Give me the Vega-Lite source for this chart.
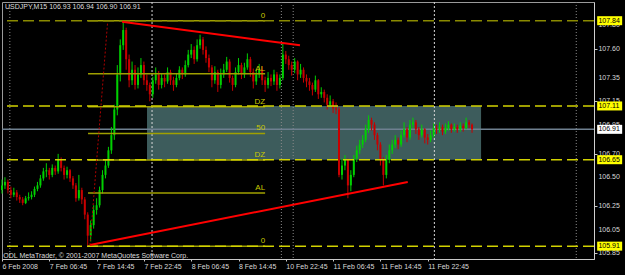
{
  "$schema": "https://vega.github.io/schema/vega-lite/v6.json",
  "width": 592,
  "height": 257,
  "autosize": {"type": "none"},
  "padding": {"left": 2, "top": 2, "right": 31, "bottom": 16},
  "background": "#000000",
  "config": {
    "view": {"stroke": "#9a9a9a", "strokeWidth": 1},
    "font": "Liberation Sans"
  },
  "datasets": {
    "candles": [
      {"t":0,"o":106.39,"h":106.48,"l":106.36,"c":106.43},
      {"t":2,"o":106.43,"h":106.50,"l":106.40,"c":106.46},
      {"t":4,"o":106.46,"h":106.48,"l":106.36,"c":106.39},
      {"t":6,"o":106.39,"h":106.42,"l":106.32,"c":106.35},
      {"t":8,"o":106.35,"h":106.41,"l":106.33,"c":106.37},
      {"t":10,"o":106.37,"h":106.39,"l":106.30,"c":106.33},
      {"t":12,"o":106.33,"h":106.35,"l":106.28,"c":106.31},
      {"t":14,"o":106.31,"h":106.33,"l":106.26,"c":106.28},
      {"t":16,"o":106.28,"h":106.34,"l":106.27,"c":106.32},
      {"t":18,"o":106.32,"h":106.37,"l":106.30,"c":106.33},
      {"t":20,"o":106.33,"h":106.38,"l":106.31,"c":106.35},
      {"t":22,"o":106.35,"h":106.42,"l":106.33,"c":106.40},
      {"t":24,"o":106.40,"h":106.46,"l":106.38,"c":106.43},
      {"t":26,"o":106.43,"h":106.52,"l":106.41,"c":106.49},
      {"t":28,"o":106.49,"h":106.58,"l":106.47,"c":106.55},
      {"t":30,"o":106.55,"h":106.62,"l":106.50,"c":106.56},
      {"t":32,"o":106.56,"h":106.58,"l":106.48,"c":106.52},
      {"t":34,"o":106.52,"h":106.61,"l":106.50,"c":106.58},
      {"t":36,"o":106.58,"h":106.60,"l":106.52,"c":106.55},
      {"t":38,"o":106.55,"h":106.70,"l":106.53,"c":106.65},
      {"t":40,"o":106.65,"h":106.67,"l":106.55,"c":106.58},
      {"t":42,"o":106.58,"h":106.60,"l":106.48,"c":106.52},
      {"t":44,"o":106.52,"h":106.59,"l":106.49,"c":106.56},
      {"t":46,"o":106.56,"h":106.57,"l":106.46,"c":106.49},
      {"t":48,"o":106.49,"h":106.51,"l":106.40,"c":106.43},
      {"t":50,"o":106.43,"h":106.45,"l":106.29,"c":106.32},
      {"t":52,"o":106.32,"h":106.52,"l":106.30,"c":106.39},
      {"t":54,"o":106.39,"h":106.41,"l":106.27,"c":106.31},
      {"t":56,"o":106.31,"h":106.33,"l":106.14,"c":106.18},
      {"t":58,"o":106.18,"h":106.20,"l":105.91,"c":106.00},
      {"t":60,"o":106.00,"h":106.13,"l":105.95,"c":106.09},
      {"t":62,"o":106.09,"h":106.26,"l":106.06,"c":106.22},
      {"t":64,"o":106.22,"h":106.32,"l":106.18,"c":106.26},
      {"t":66,"o":106.26,"h":106.42,"l":106.24,"c":106.39},
      {"t":68,"o":106.39,"h":106.56,"l":106.36,"c":106.52},
      {"t":70,"o":106.52,"h":106.65,"l":106.49,"c":106.60},
      {"t":72,"o":106.60,"h":106.76,"l":106.58,"c":106.73},
      {"t":74,"o":106.73,"h":106.93,"l":106.70,"c":106.86},
      {"t":76,"o":106.86,"h":107.12,"l":106.82,"c":107.08},
      {"t":78,"o":107.08,"h":107.46,"l":107.03,"c":107.38},
      {"t":80,"o":107.38,"h":107.68,"l":107.32,"c":107.63},
      {"t":82,"o":107.63,"h":107.84,"l":107.59,"c":107.76},
      {"t":84,"o":107.76,"h":107.78,"l":107.42,"c":107.51},
      {"t":86,"o":107.51,"h":107.55,"l":107.27,"c":107.33},
      {"t":88,"o":107.33,"h":107.49,"l":107.29,"c":107.42},
      {"t":90,"o":107.42,"h":107.46,"l":107.25,"c":107.29},
      {"t":92,"o":107.29,"h":107.44,"l":107.26,"c":107.38},
      {"t":94,"o":107.38,"h":107.52,"l":107.35,"c":107.46},
      {"t":96,"o":107.46,"h":107.49,"l":107.29,"c":107.33},
      {"t":98,"o":107.33,"h":107.38,"l":107.24,"c":107.29},
      {"t":100,"o":107.29,"h":107.31,"l":107.15,"c":107.21},
      {"t":102,"o":107.21,"h":107.36,"l":107.18,"c":107.33},
      {"t":104,"o":107.33,"h":107.44,"l":107.30,"c":107.38},
      {"t":106,"o":107.38,"h":107.41,"l":107.25,"c":107.29},
      {"t":108,"o":107.29,"h":107.39,"l":107.26,"c":107.35},
      {"t":110,"o":107.35,"h":107.38,"l":107.27,"c":107.32},
      {"t":112,"o":107.32,"h":107.44,"l":107.30,"c":107.40},
      {"t":114,"o":107.40,"h":107.42,"l":107.29,"c":107.33},
      {"t":116,"o":107.33,"h":107.36,"l":107.24,"c":107.29},
      {"t":118,"o":107.29,"h":107.39,"l":107.27,"c":107.35},
      {"t":120,"o":107.35,"h":107.45,"l":107.33,"c":107.42},
      {"t":122,"o":107.42,"h":107.44,"l":107.34,"c":107.38},
      {"t":124,"o":107.38,"h":107.50,"l":107.36,"c":107.46},
      {"t":126,"o":107.46,"h":107.59,"l":107.44,"c":107.55},
      {"t":128,"o":107.55,"h":107.64,"l":107.52,"c":107.59},
      {"t":130,"o":107.59,"h":107.62,"l":107.47,"c":107.51},
      {"t":132,"o":107.51,"h":107.68,"l":107.49,"c":107.63},
      {"t":134,"o":107.63,"h":107.72,"l":107.60,"c":107.68},
      {"t":136,"o":107.68,"h":107.70,"l":107.55,"c":107.59},
      {"t":138,"o":107.59,"h":107.62,"l":107.48,"c":107.52},
      {"t":140,"o":107.52,"h":107.55,"l":107.40,"c":107.44},
      {"t":142,"o":107.44,"h":107.46,"l":107.27,"c":107.33},
      {"t":144,"o":107.33,"h":107.45,"l":107.30,"c":107.40},
      {"t":146,"o":107.40,"h":107.42,"l":107.23,"c":107.29},
      {"t":148,"o":107.29,"h":107.43,"l":107.26,"c":107.38},
      {"t":150,"o":107.38,"h":107.47,"l":107.35,"c":107.42},
      {"t":152,"o":107.42,"h":107.53,"l":107.40,"c":107.49},
      {"t":154,"o":107.49,"h":107.51,"l":107.31,"c":107.35},
      {"t":156,"o":107.35,"h":107.37,"l":107.24,"c":107.29},
      {"t":158,"o":107.29,"h":107.44,"l":107.27,"c":107.40},
      {"t":160,"o":107.40,"h":107.52,"l":107.38,"c":107.46},
      {"t":162,"o":107.46,"h":107.48,"l":107.34,"c":107.38},
      {"t":164,"o":107.38,"h":107.48,"l":107.35,"c":107.44},
      {"t":166,"o":107.44,"h":107.56,"l":107.42,"c":107.51},
      {"t":168,"o":107.51,"h":107.53,"l":107.36,"c":107.40},
      {"t":170,"o":107.40,"h":107.43,"l":107.26,"c":107.32},
      {"t":172,"o":107.32,"h":107.42,"l":107.29,"c":107.38},
      {"t":174,"o":107.38,"h":107.47,"l":107.35,"c":107.42},
      {"t":176,"o":107.42,"h":107.45,"l":107.29,"c":107.33},
      {"t":178,"o":107.33,"h":107.36,"l":107.23,"c":107.29},
      {"t":180,"o":107.29,"h":107.40,"l":107.26,"c":107.35},
      {"t":182,"o":107.35,"h":107.38,"l":107.28,"c":107.32},
      {"t":184,"o":107.32,"h":107.42,"l":107.29,"c":107.38},
      {"t":186,"o":107.38,"h":107.40,"l":107.24,"c":107.29},
      {"t":188,"o":107.29,"h":107.38,"l":107.26,"c":107.35},
      {"t":190,"o":107.35,"h":107.65,"l":107.33,"c":107.55},
      {"t":192,"o":107.55,"h":107.58,"l":107.47,"c":107.51},
      {"t":194,"o":107.51,"h":107.54,"l":107.42,"c":107.46},
      {"t":196,"o":107.46,"h":107.49,"l":107.37,"c":107.42},
      {"t":198,"o":107.42,"h":107.52,"l":107.39,"c":107.49},
      {"t":200,"o":107.49,"h":107.50,"l":107.33,"c":107.38},
      {"t":202,"o":107.38,"h":107.47,"l":107.35,"c":107.42},
      {"t":204,"o":107.42,"h":107.44,"l":107.31,"c":107.35},
      {"t":206,"o":107.35,"h":107.38,"l":107.27,"c":107.32},
      {"t":208,"o":107.32,"h":107.35,"l":107.24,"c":107.29},
      {"t":210,"o":107.29,"h":107.31,"l":107.20,"c":107.25},
      {"t":212,"o":107.25,"h":107.37,"l":107.23,"c":107.33},
      {"t":214,"o":107.33,"h":107.34,"l":107.17,"c":107.21},
      {"t":216,"o":107.21,"h":107.27,"l":107.18,"c":107.23},
      {"t":218,"o":107.23,"h":107.25,"l":107.14,"c":107.18},
      {"t":220,"o":107.18,"h":107.21,"l":107.08,"c":107.12},
      {"t":222,"o":107.12,"h":107.20,"l":107.10,"c":107.15},
      {"t":224,"o":107.15,"h":107.17,"l":107.05,"c":107.09},
      {"t":226,"o":107.09,"h":107.14,"l":107.04,"c":107.08},
      {"t":228,"o":107.08,"h":107.10,"l":106.50,"c":106.52},
      {"t":230,"o":106.52,"h":106.66,"l":106.48,"c":106.60},
      {"t":232,"o":106.60,"h":106.69,"l":106.56,"c":106.65},
      {"t":234,"o":106.65,"h":106.66,"l":106.32,"c":106.43},
      {"t":236,"o":106.43,"h":106.56,"l":106.38,"c":106.52},
      {"t":238,"o":106.52,"h":106.69,"l":106.50,"c":106.66},
      {"t":240,"o":106.66,"h":106.77,"l":106.63,"c":106.73},
      {"t":242,"o":106.73,"h":106.82,"l":106.70,"c":106.78},
      {"t":244,"o":106.78,"h":106.86,"l":106.75,"c":106.82},
      {"t":246,"o":106.82,"h":106.95,"l":106.80,"c":106.91},
      {"t":248,"o":106.91,"h":107.03,"l":106.88,"c":106.99},
      {"t":250,"o":106.99,"h":107.01,"l":106.90,"c":106.95},
      {"t":252,"o":106.95,"h":106.97,"l":106.82,"c":106.86},
      {"t":254,"o":106.86,"h":106.88,"l":106.73,"c":106.78},
      {"t":256,"o":106.78,"h":106.80,"l":106.60,"c":106.65},
      {"t":258,"o":106.65,"h":106.67,"l":106.43,"c":106.52},
      {"t":260,"o":106.52,"h":106.69,"l":106.49,"c":106.65},
      {"t":262,"o":106.65,"h":106.78,"l":106.62,"c":106.73},
      {"t":264,"o":106.73,"h":106.82,"l":106.70,"c":106.78},
      {"t":266,"o":106.78,"h":106.86,"l":106.75,"c":106.82},
      {"t":268,"o":106.82,"h":106.84,"l":106.74,"c":106.78},
      {"t":270,"o":106.78,"h":106.90,"l":106.76,"c":106.86},
      {"t":272,"o":106.86,"h":106.97,"l":106.84,"c":106.91},
      {"t":274,"o":106.91,"h":106.93,"l":106.80,"c":106.84},
      {"t":276,"o":106.84,"h":106.99,"l":106.82,"c":106.95},
      {"t":278,"o":106.95,"h":107.01,"l":106.92,"c":106.97},
      {"t":280,"o":106.97,"h":106.99,"l":106.87,"c":106.91},
      {"t":282,"o":106.91,"h":106.93,"l":106.82,"c":106.86},
      {"t":284,"o":106.86,"h":106.95,"l":106.84,"c":106.91},
      {"t":286,"o":106.91,"h":106.92,"l":106.79,"c":106.84},
      {"t":288,"o":106.84,"h":106.87,"l":106.78,"c":106.82},
      {"t":290,"o":106.82,"h":106.90,"l":106.80,"c":106.86},
      {"t":292,"o":106.86,"h":106.96,"l":106.84,"c":106.92},
      {"t":294,"o":106.92,"h":106.95,"l":106.87,"c":106.91},
      {"t":296,"o":106.91,"h":106.97,"l":106.88,"c":106.93},
      {"t":298,"o":106.93,"h":106.95,"l":106.86,"c":106.89},
      {"t":300,"o":106.89,"h":106.96,"l":106.87,"c":106.92},
      {"t":302,"o":106.92,"h":106.98,"l":106.90,"c":106.95},
      {"t":304,"o":106.95,"h":106.96,"l":106.88,"c":106.91},
      {"t":306,"o":106.91,"h":106.96,"l":106.89,"c":106.93},
      {"t":308,"o":106.93,"h":106.95,"l":106.88,"c":106.91},
      {"t":310,"o":106.91,"h":106.97,"l":106.89,"c":106.94},
      {"t":312,"o":106.94,"h":106.96,"l":106.89,"c":106.92},
      {"t":314,"o":106.92,"h":107.01,"l":106.91,"c":106.97},
      {"t":316,"o":106.97,"h":106.99,"l":106.92,"c":106.95},
      {"t":318,"o":106.95,"h":106.96,"l":106.88,"c":106.91}
    ],
    "fib": [
      {"p": 107.84, "lab": "0"}, {"p": 107.385, "lab": "AL"}, {"p": 107.103, "lab": "DZ"},
      {"p": 106.875, "lab": "50"}, {"p": 106.647, "lab": "DZ"}, {"p": 106.365, "lab": "AL"}, {"p": 105.91, "lab": "0"}
    ],
    "yticks": [
      {"v": 107.8, "s": "107.80"}, {"v": 107.6, "s": "107.60"}, {"v": 107.35, "s": "107.35"}, {"v": 107.15, "s": "107.15"},
      {"v": 106.95, "s": "106.95"}, {"v": 106.7, "s": "106.70"}, {"v": 106.5, "s": "106.50"}, {"v": 106.25, "s": "106.25"},
      {"v": 106.05, "s": "106.05"}, {"v": 105.85, "s": "105.85"}
    ]
  },
  "layer": [
    {
      "data": {"values": [{"t1": 98.1, "t2": 324.1, "top": 107.11, "bot": 106.65}]},
      "mark": {"type": "rect", "color": "#3d5c5c"},
      "encoding": {
        "x": {"field": "t1", "type": "quantitative", "title": null, "scale": {"domain": [0, 400.5], "nice": false, "zero": false},
          "axis": {"values": [0, 32, 64, 96, 128, 160, 192, 224, 256, 288],
            "labelExpr": "['6 Feb 2008','7 Feb 06:45','7 Feb 14:45','7 Feb 22:45','8 Feb 06:45','8 Feb 14:45','10 Feb 22:45','11 Feb 06:45','11 Feb 14:45','11 Feb 22:45'][round(datum.value/32)]",
            "labelAlign": "left", "labelDx": -1, "labelFlush": false, "labelOverlap": false, "labelBaseline": "top",
            "labelColor": "#d8d8d8", "labelFontSize": 7, "labelPadding": 1, "tickSize": 2, "tickColor": "#c8c8c8",
            "domainColor": "#c8c8c8", "grid": false, "title": null, "orient": "bottom"}},
        "x2": {"field": "t2"},
        "y": {"field": "top", "type": "quantitative", "title": null, "scale": {"domain": [105.8, 108.0], "nice": false, "zero": false},
          "axis": {"values": [105.85, 106.05, 106.25, 106.5, 106.7, 106.95, 107.15, 107.35, 107.6, 107.8],
            "orient": "right", "labels": false, "tickSize": 3,
            "tickColor": "#c8c8c8", "domainColor": "#d0d0d0", "grid": false, "title": null}},
        "y2": {"field": "bot"}
      }
    },
    {
      "data": {"values": [{"t": 5.3}, {"t": 189}, {"t": 197}, {"t": 388.5}]},
      "mark": {"type": "rule", "color": "#8a8a8a", "strokeDash": [1, 2], "strokeWidth": 1},
      "encoding": {"x": {"field": "t", "type": "quantitative", "title": null, "scale": {"domain": [0, 400.5], "nice": false, "zero": false}}}
    },
    {
      "data": {"values": [{"t": 101.5}, {"t": 292.5}]},
      "mark": {"type": "rule", "color": "#d8d8d8", "strokeDash": [2, 2], "strokeWidth": 1},
      "encoding": {"x": {"field": "t", "type": "quantitative", "title": null, "scale": {"domain": [0, 400.5], "nice": false, "zero": false}}}
    },
    {
      "data": {"values": [{"p": 106.91}]},
      "mark": {"type": "rule", "color": "#6f8090", "strokeWidth": 1.5},
      "encoding": {"y": {"field": "p", "type": "quantitative", "title": null, "scale": {"domain": [105.8, 108.0], "nice": false, "zero": false}}}
    },
    {
      "data": {"name": "candles"},
      "mark": {"type": "rule", "strokeWidth": 1},
      "encoding": {
        "x": {"field": "t", "type": "quantitative", "title": null, "scale": {"domain": [0, 400.5], "nice": false, "zero": false}},
        "y": {"field": "l", "type": "quantitative", "title": null, "scale": {"domain": [105.8, 108.0], "nice": false, "zero": false}},
        "y2": {"field": "h"},
        "color": {"condition": {"test": "datum.c >= datum.o", "value": "#00d000"}, "value": "#c80000"}
      }
    },
    {
      "data": {"name": "candles"},
      "mark": {"type": "rule", "strokeWidth": 2},
      "encoding": {
        "x": {"field": "t", "type": "quantitative", "title": null, "scale": {"domain": [0, 400.5], "nice": false, "zero": false}},
        "y": {"field": "o", "type": "quantitative", "title": null, "scale": {"domain": [105.8, 108.0], "nice": false, "zero": false}},
        "y2": {"field": "c"},
        "color": {"condition": {"test": "datum.c >= datum.o", "value": "#00d000"}, "value": "#c80000"}
      }
    },
    {
      "data": {"name": "fib"},
      "mark": {"type": "rule", "color": "#a0a000", "strokeWidth": 1.5},
      "encoding": {
        "x": {"datum": 58.2, "type": "quantitative", "title": null, "scale": {"domain": [0, 400.5], "nice": false, "zero": false}},
        "x2": {"datum": 178},
        "y": {"field": "p", "type": "quantitative", "title": null, "scale": {"domain": [105.8, 108.0], "nice": false, "zero": false}}
      }
    },
    {
      "data": {"values": [{"p": 107.84}]},
      "mark": {"type": "rule", "color": "#8a8a00", "strokeWidth": 1.5, "strokeDash": [11, 5]},
      "encoding": {"y": {"field": "p", "type": "quantitative", "title": null, "scale": {"domain": [105.8, 108.0], "nice": false, "zero": false}}}
    },
    {
      "data": {"values": [{"p": 107.11}, {"p": 106.65}, {"p": 105.91}]},
      "mark": {"type": "rule", "color": "#d2d200", "strokeWidth": 1.5, "strokeDash": [11, 5]},
      "encoding": {"y": {"field": "p", "type": "quantitative", "title": null, "scale": {"domain": [105.8, 108.0], "nice": false, "zero": false}}}
    },
    {
      "data": {"name": "fib"},
      "mark": {"type": "text", "color": "#c8c800", "fontSize": 8, "align": "right", "baseline": "bottom", "dy": -1},
      "encoding": {
        "x": {"datum": 178, "type": "quantitative", "title": null, "scale": {"domain": [0, 400.5], "nice": false, "zero": false}},
        "y": {"field": "p", "type": "quantitative", "title": null, "scale": {"domain": [105.8, 108.0], "nice": false, "zero": false}},
        "text": {"field": "lab"}
      }
    },
    {
      "data": {"values": [
        {"t1": 81.2, "p1": 107.83, "t2": 201.6, "p2": 107.63},
        {"t1": 59.5, "p1": 105.92, "t2": 274.5, "p2": 106.46}]},
      "mark": {"type": "rule", "color": "#ff0000", "strokeWidth": 2},
      "encoding": {
        "x": {"field": "t1", "type": "quantitative", "title": null, "scale": {"domain": [0, 400.5], "nice": false, "zero": false}},
        "x2": {"field": "t2"},
        "y": {"field": "p1", "type": "quantitative", "title": null, "scale": {"domain": [105.8, 108.0], "nice": false, "zero": false}},
        "y2": {"field": "p2"}
      }
    },
    {
      "data": {"values": [{"t1": 59.5, "p1": 105.92, "t2": 71.4, "p2": 107.82}]},
      "mark": {"type": "rule", "color": "#b00000", "strokeWidth": 1, "strokeDash": [2, 2]},
      "encoding": {
        "x": {"field": "t1", "type": "quantitative", "title": null, "scale": {"domain": [0, 400.5], "nice": false, "zero": false}},
        "x2": {"field": "t2"},
        "y": {"field": "p1", "type": "quantitative", "title": null, "scale": {"domain": [105.8, 108.0], "nice": false, "zero": false}},
        "y2": {"field": "p2"}
      }
    },
    {
      "data": {"values": [
        {"t": 2, "p": 107.957, "txt": "USDJPY,M15  106.93 106.94 106.90 106.91"},
        {"t": 0.9, "p": 105.829, "txt": "ODL MetaTrader, © 2001-2007 MetaQuotes Software Corp."}]},
      "mark": {"type": "text", "color": "#dcdcdc", "fontSize": 7, "align": "left", "baseline": "middle"},
      "encoding": {
        "x": {"field": "t", "type": "quantitative", "title": null, "scale": {"domain": [0, 400.5], "nice": false, "zero": false}},
        "y": {"field": "p", "type": "quantitative", "title": null, "scale": {"domain": [105.8, 108.0], "nice": false, "zero": false}},
        "text": {"field": "txt"}
      }
    },
    {
      "data": {"name": "yticks"},
      "mark": {"type": "text", "color": "#d8d8d8", "fontSize": 7, "align": "left", "baseline": "middle"},
      "encoding": {
        "x": {"datum": 403.5, "type": "quantitative", "title": null, "scale": {"domain": [0, 400.5], "nice": false, "zero": false}},
        "y": {"field": "v", "type": "quantitative", "title": null, "scale": {"domain": [105.8, 108.0], "nice": false, "zero": false}},
        "text": {"field": "s"}
      }
    },
    {
      "data": {"values": [{"p": 107.84, "s": "107.84"}, {"p": 107.11, "s": "107.11"}, {"p": 106.65, "s": "106.65"}, {"p": 105.91, "s": "105.91"}]},
      "layer": [
        {
          "mark": {"type": "tick", "orient": "horizontal", "color": "#ffff00", "size": 25, "thickness": 9, "opacity": 1},
          "encoding": {
            "x": {"datum": 411.1, "type": "quantitative", "title": null, "scale": {"domain": [0, 400.5], "nice": false, "zero": false}},
            "y": {"field": "p", "type": "quantitative", "title": null, "scale": {"domain": [105.8, 108.0], "nice": false, "zero": false}}
          }
        },
        {
          "mark": {"type": "text", "color": "#000000", "fontSize": 7, "align": "left", "baseline": "middle"},
          "encoding": {
            "x": {"datum": 403.5, "type": "quantitative", "title": null, "scale": {"domain": [0, 400.5], "nice": false, "zero": false}},
            "y": {"field": "p", "type": "quantitative", "title": null, "scale": {"domain": [105.8, 108.0], "nice": false, "zero": false}},
            "text": {"field": "s"}
          }
        }
      ]
    },
    {
      "data": {"values": [{"p": 106.91, "s": "106.91"}]},
      "layer": [
        {
          "mark": {"type": "tick", "orient": "horizontal", "color": "#ffffff", "size": 25, "thickness": 9, "opacity": 1},
          "encoding": {
            "x": {"datum": 411.1, "type": "quantitative", "title": null, "scale": {"domain": [0, 400.5], "nice": false, "zero": false}},
            "y": {"field": "p", "type": "quantitative", "title": null, "scale": {"domain": [105.8, 108.0], "nice": false, "zero": false}}
          }
        },
        {
          "mark": {"type": "text", "color": "#000000", "fontSize": 7, "align": "left", "baseline": "middle"},
          "encoding": {
            "x": {"datum": 403.5, "type": "quantitative", "title": null, "scale": {"domain": [0, 400.5], "nice": false, "zero": false}},
            "y": {"field": "p", "type": "quantitative", "title": null, "scale": {"domain": [105.8, 108.0], "nice": false, "zero": false}},
            "text": {"field": "s"}
          }
        }
      ]
    }
  ]
}
